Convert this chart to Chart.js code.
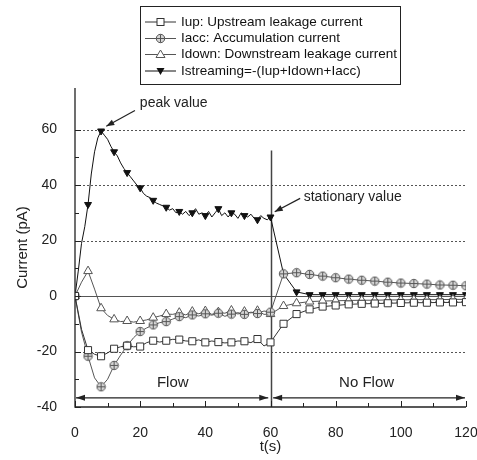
<!DOCTYPE html>
<html><head><meta charset="utf-8">
<script src="https://cdn.jsdelivr.net/npm/chart.js@4.4.0/dist/chart.umd.min.js"></script>
<style>html,body{margin:0;padding:0;background:#fff;}#wrap{width:477px;height:460px;}</style>
</head><body><div id="wrap"><canvas id="c" width="477" height="460"></canvas></div>
<script>
// ---- data ----
const timeStream = [0,1,2,3,4,5,6,7,8,9,10,11,12,13,14,15,16,17,18,19,20,21,22,23,24,25,26,27,28,29,30,31,32,33,34,35,36,37,38,39,40,41,42,43,44,45,46,47,48,49,50,51,52,53,54,55,56,57,58,59,60,64,68,72,76,80,84,88,92,96,100,104,108,112,116,120];
const streamValues = [0,9,19,25,33,44,52,57,59.5,58,56.5,54,52,50.5,48,46,44.5,43,41.5,40,39,37,36,35.5,34.5,33.5,33,32.5,32,31,31.5,30,30.5,29.5,30.5,29,30,31.5,29.5,30,29,30.5,28.5,30,31.5,29,30,28.5,30,29.5,28,30,29,28.5,29.5,28,27.5,29,28,27.5,28.5,8,1.5,0.5,0.5,0.5,0.5,0.5,0.5,0.5,0.5,0.5,0.5,0.5,0.5,0.5];
const timeLeak = [0,2,4,6,8,10,12,14,16,18,20,22,24,26,28,30,32,34,36,38,40,42,44,46,48,50,52,54,56,58,60,64,68,72,76,80,84,88,92,96,100,104,108,112,116,120];
const iupValues = [0,-12,-19.5,-21,-21.7,-20.5,-19,-18.3,-17.9,-18.3,-18.2,-16.8,-16.1,-16.6,-16.1,-15.6,-15.7,-16.2,-16.3,-15.8,-16.7,-16.2,-16.6,-16.9,-16.7,-16.2,-16.3,-16.8,-15.5,-18,-16.7,-10,-6.5,-4.8,-3.8,-3.4,-3.0,-2.8,-2.7,-2.6,-2.5,-2.4,-2.4,-2.3,-2.3,-2.2];
const iaccValues = [0,-13,-21.7,-29.5,-32.7,-30,-25,-21.3,-17.9,-15,-12.8,-11.5,-10.4,-9.6,-9.2,-8.3,-7.4,-7.8,-6.8,-7.2,-6.4,-6.9,-6.2,-7.3,-6.5,-6.0,-6.6,-5.8,-6.3,-5.4,-5.8,8,8.4,7.8,7.2,6.6,6.1,5.7,5.4,5.0,4.7,4.5,4.3,4.0,3.9,3.7];
const idownValues = [0,5,9,2.5,-4.4,-7,-8.4,-9.2,-9,-9.4,-9,-8.6,-7.8,-7.2,-6.5,-6.6,-6,-6.8,-5.6,-6.4,-5.4,-6.6,-5.8,-6.2,-5.2,-6.5,-5.6,-6.1,-5.3,-6.6,-6.5,-3.6,-2.6,-2.0,-1.8,-1.7,-1.6,-1.5,-1.5,-1.4,-1.4,-1.3,-1.3,-1.3,-1.2,-1.2];
const seriesLabels = ['Iup: Upstream leakage current','Iacc: Accumulation current','Idown: Downstream leakage current','Istreaming=-(Iup+Idown+Iacc)'];
const xTickLabels = [0,20,40,60,80,100,120];
const yTickLabels = [-40,-20,0,20,40,60];
const dottedGridValues = [60,40,20,-20];

const FONT = "'Liberation Sans', Arial, sans-serif";
Chart.defaults.font.family = FONT;
Chart.defaults.color = '#222';

function pts(xs, ys){ return xs.map((t,i)=>({x:t,y:ys[i]})); }

function makeCirclePlus(){
  const c=document.createElement('canvas'); c.width=11; c.height=11;
  const g=c.getContext('2d');
  g.beginPath(); g.arc(5.5,5.5,4.2,0,Math.PI*2); g.fillStyle='#d6d6d6'; g.fill();
  g.lineWidth=1; g.strokeStyle='#555'; g.stroke();
  g.beginPath(); g.moveTo(5.5,1.5); g.lineTo(5.5,9.5); g.moveTo(1.5,5.5); g.lineTo(9.5,5.5); g.stroke();
  return c;
}
const circlePlus = makeCirclePlus();
const markerAt = r => (ctx => (ctx.raw && ctx.raw.x % 4 === 0) ? r : 0);

const datasets = [
  {label:seriesLabels[0], data:pts(timeLeak,iupValues), borderColor:'#333', borderWidth:1,
   pointStyle:'rect', pointRadius:markerAt(5), pointBackgroundColor:'#fff', pointBorderColor:'#333', pointBorderWidth:1},
  {label:seriesLabels[1], data:pts(timeLeak,iaccValues), borderColor:'#555', borderWidth:1,
   pointStyle:circlePlus, pointRadius:markerAt(4), pointBackgroundColor:'#ddd', pointBorderColor:'#555'},
  {label:seriesLabels[2], data:pts(timeLeak,idownValues), borderColor:'#555', borderWidth:1,
   pointStyle:'triangle', pointRadius:markerAt(5), pointBackgroundColor:'#fff', pointBorderColor:'#555', pointBorderWidth:1},
  {label:seriesLabels[3], data:pts(timeStream,streamValues), borderColor:'#111', borderWidth:1,
   pointStyle:'triangle', pointRotation:180, pointRadius:markerAt(4), pointBackgroundColor:'#111', pointBorderColor:'#111', pointBorderWidth:1}
];

function arrowHead(ctx,x1,y1,x2,y2,len,half){
  const a=Math.atan2(y2-y1,x2-x1), c=Math.cos(a), s=Math.sin(a);
  ctx.beginPath(); ctx.moveTo(x2,y2);
  ctx.lineTo(x2-len*c+half*s, y2-len*s-half*c);
  ctx.lineTo(x2-len*c-half*s, y2-len*s+half*c);
  ctx.closePath(); ctx.fill();
}

const deco = {
  id:'deco',
  beforeDatasetsDraw(chart){
    const {ctx, chartArea:a, scales:{x,y}} = chart;
    ctx.save();
    ctx.strokeStyle='#555'; ctx.lineWidth=1; ctx.setLineDash([2,2]);
    dottedGridValues.forEach(v=>{ const py=Math.round(y.getPixelForValue(v))+0.5;
      ctx.beginPath(); ctx.moveTo(a.left,py); ctx.lineTo(a.right,py); ctx.stroke(); });
    ctx.setLineDash([]);
    ctx.strokeStyle='#555'; ctx.lineWidth=1.2;
    const y0=Math.round(y.getPixelForValue(0))+0.5;
    ctx.beginPath(); ctx.moveTo(a.left,y0); ctx.lineTo(a.right,y0); ctx.stroke();
    const p60=Math.round(x.getPixelForValue(60))+0.5;
    ctx.strokeStyle='#444'; ctx.lineWidth=1.5;
    ctx.beginPath(); ctx.moveTo(p60,y.getPixelForValue(52.5)); ctx.lineTo(p60,a.bottom); ctx.stroke();
    ctx.restore();
  },
  afterDraw(chart){
    const {ctx, chartArea:a, scales:{x,y}} = chart;
    ctx.save();
    // axes
    ctx.strokeStyle='#222'; ctx.lineWidth=1.3;
    ctx.beginPath(); ctx.moveTo(a.left,a.top); ctx.lineTo(a.left,a.bottom); ctx.lineTo(a.right,a.bottom); ctx.stroke();
    // inward ticks
    ctx.lineWidth=1;
    y.ticks.forEach(t=>{ if(t.value%10!==0) return; const py=Math.round(y.getPixelForValue(t.value))+0.5;
      const len = yTickLabels.includes(t.value)?6:4;
      ctx.beginPath(); ctx.moveTo(a.left,py); ctx.lineTo(a.left+len,py); ctx.stroke(); });
    x.ticks.forEach(t=>{ if(t.value%10!==0) return; const px=Math.round(x.getPixelForValue(t.value))+0.5;
      const len = xTickLabels.includes(t.value)?6:4;
      ctx.beginPath(); ctx.moveTo(px,a.bottom); ctx.lineTo(px,a.bottom-len); ctx.stroke(); });
    // annotations
    ctx.fillStyle='#222'; ctx.strokeStyle='#222'; ctx.lineWidth=1.2;
    ctx.font='14px '+FONT; ctx.textBaseline='middle'; ctx.textAlign='left';
    const P=(vx,vy)=>[x.getPixelForValue(vx),y.getPixelForValue(vy)];
    let [ax1,ay1]=P(18.4,66.9), [ax2,ay2]=P(9.6,61.2);
    ctx.beginPath(); ctx.moveTo(ax1,ay1); ctx.lineTo(ax2,ay2); ctx.stroke(); arrowHead(ctx,ax1,ay1,ax2,ay2,8,3);
    let [tx,ty]=P(19.9,69.5); ctx.fillText('peak value',tx,ty);
    [ax1,ay1]=P(69.1,35.2); [ax2,ay2]=P(61.3,30.4);
    ctx.beginPath(); ctx.moveTo(ax1,ay1); ctx.lineTo(ax2,ay2); ctx.stroke(); arrowHead(ctx,ax1,ay1,ax2,ay2,8,3);
    [tx,ty]=P(70.2,35.8); ctx.fillText('stationary value',tx,ty);
    // flow arrows
    const fy=y.getPixelForValue(-36.7);
    const seg=(v1,v2)=>{ const p1=x.getPixelForValue(v1), p2=x.getPixelForValue(v2);
      ctx.beginPath(); ctx.moveTo(p1,fy); ctx.lineTo(p2,fy); ctx.stroke();
      arrowHead(ctx,p2,fy,p1,fy,9,3); arrowHead(ctx,p1,fy,p2,fy,9,3); };
    seg(0.3,59.3); seg(60.8,119.7);
    ctx.font='15px '+FONT; ctx.textAlign='center';
    [tx,ty]=P(30,-31.3); ctx.fillText('Flow',tx,ty);
    [tx,ty]=P(89.5,-31.3); ctx.fillText('No Flow',tx,ty);
    // legend
    ctx.lineWidth=1; ctx.strokeStyle='#222';
    ctx.strokeRect(140.5,6.5,260,78);
    const rows=[22,38.5,54.5,71];
    ctx.font='13.5px '+FONT; ctx.textAlign='left';
    datasets.forEach((d,i)=>{
      const ry=rows[i];
      ctx.strokeStyle=d.borderColor; ctx.lineWidth=1;
      ctx.beginPath(); ctx.moveTo(145,ry); ctx.lineTo(176,ry); ctx.stroke();
      const mx=160.5;
      if(i===0){ ctx.fillStyle='#fff'; ctx.fillRect(157,ry-3.5,7,7); ctx.strokeStyle='#333'; ctx.strokeRect(157,ry-3.5,7,7); }
      else if(i===1){ ctx.drawImage(circlePlus,mx-5.5,ry-5.5); }
      else if(i===2){ ctx.beginPath(); ctx.moveTo(mx,ry-4.5); ctx.lineTo(mx+4.5,ry+3); ctx.lineTo(mx-4.5,ry+3); ctx.closePath();
        ctx.fillStyle='#fff'; ctx.fill(); ctx.strokeStyle='#555'; ctx.stroke(); }
      else { ctx.beginPath(); ctx.moveTo(mx,ry+4); ctx.lineTo(mx+4,ry-3); ctx.lineTo(mx-4,ry-3); ctx.closePath();
        ctx.fillStyle='#111'; ctx.fill(); }
      ctx.fillStyle='#111'; ctx.fillText(seriesLabels[i],181,ry);
    });
    ctx.restore();
  }
};

new Chart(document.getElementById('c'), {
  type:'line',
  data:{datasets},
  options:{
    responsive:false, animation:false, devicePixelRatio:1,
    layout:{padding:{top:88,right:11,left:0,bottom:0}},
    plugins:{legend:{display:false}, tooltip:{enabled:false}},
    elements:{line:{tension:0}},
    scales:{
      x:{type:'linear', min:0, max:120,
         grid:{display:false}, border:{display:false},
         ticks:{stepSize:10, autoSkip:false, maxRotation:0, padding:10, font:{size:14}, color:'#222',
                callback:v=> xTickLabels.includes(v) ? String(v) : ''},
         title:{display:true, text:'t(s)', font:{size:15}, color:'#222', padding:{top:4,bottom:4}},
         afterFit:s=>{s.height=53; s.paddingRight=0; s.paddingLeft=0;}},
      y:{type:'linear', min:-40, max:75,
         grid:{display:false}, border:{display:false},
         ticks:{stepSize:10, autoSkip:false, padding:10, font:{size:14}, color:'#222',
                callback:v=> yTickLabels.includes(v) ? String(v) : ''},
         title:{display:true, text:'Current (pA)', font:{size:15}, color:'#222', padding:{top:14,bottom:14}},
         afterFit:s=>{s.width=75; s.paddingTop=0; s.paddingBottom=0;}}
    }
  },
  plugins:[deco]
});
</script></body></html>
